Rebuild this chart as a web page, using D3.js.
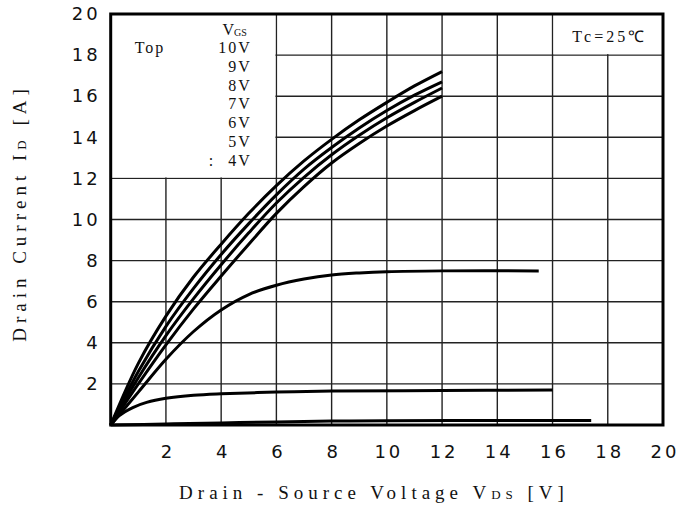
<!DOCTYPE html>
<html>
<head>
<meta charset="utf-8">
<script src="https://cdn.jsdelivr.net/npm/d3@7"></script>
<style>
  body { margin: 0; background: #fff; }
  svg { display: block; }
  .tick text { font-family: "DejaVu Sans", sans-serif; font-size: 18px; fill: #111; letter-spacing: 3px; }
  .label { font-family: "Liberation Serif", serif; font-size: 19px; fill: #111; letter-spacing: 5px; }
  .legend { font-family: "Liberation Serif", serif; font-size: 16px; fill: #111; }
</style>
</head>
<body>
<div id="chart"></div>
<script>
// tick labels
const xTicks = [2, 4, 6, 8, 10, 12, 14, 16, 18, 20];
const yTicks = [2, 4, 6, 8, 10, 12, 14, 16, 18, 20];

// legend entries (gate voltage)
const vgsLabels = ["10V", "9V", "8V", "7V", "6V", "5V", "4V"];

// output curves, [Vds, Id]
const curve10V = [[0, 0], [1, 3.0], [2, 5.3], [3, 7.2], [4, 8.8], [5, 10.3], [6, 11.65], [7, 12.85], [8, 13.9], [9, 14.85], [10, 15.7], [11, 16.5], [12, 17.2]];
const curve9V = [[0, 0], [1, 2.6], [2, 4.8], [3, 6.65], [4, 8.3], [5, 9.8], [6, 11.2], [7, 12.45], [8, 13.5], [9, 14.45], [10, 15.3], [11, 16.05], [12, 16.7]];
const curve8V = [[0, 0], [1, 2.3], [2, 4.35], [3, 6.15], [4, 7.8], [5, 9.35], [6, 10.8], [7, 12.05], [8, 13.15], [9, 14.1], [10, 14.95], [11, 15.7], [12, 16.4]];
const curve7V = [[0, 0], [1, 2.0], [2, 3.9], [3, 5.65], [4, 7.25], [5, 8.8], [6, 10.3], [7, 11.6], [8, 12.75], [9, 13.7], [10, 14.55], [11, 15.3], [12, 16.0]];
const curve6V = [[0, 0], [1, 1.6], [2, 3.2], [3, 4.55], [4, 5.6], [5, 6.35], [6, 6.8], [7, 7.1], [8, 7.3], [9, 7.4], [10, 7.46], [12, 7.5], [15.5, 7.5]];
const curve5V = [[0, 0], [0.3, 0.45], [0.8, 0.85], [1.3, 1.1], [2, 1.3], [3, 1.45], [4, 1.52], [6, 1.6], [8, 1.65], [12, 1.68], [16, 1.7]];
const curve4V = [[0, 0], [2, 0.05], [4, 0.1], [6, 0.15], [8, 0.19], [10, 0.21], [14, 0.22], [17.4, 0.22]];
const curves = [curve10V, curve9V, curve8V, curve7V, curve6V, curve5V, curve4V];

const W = 684, H = 507;
const margin = { top: 14, right: 21, bottom: 82, left: 110.7 };
const width = W - margin.left - margin.right;
const height = H - margin.top - margin.bottom;

const svg = d3.select("#chart").append("svg")
    .attr("width", W)
    .attr("height", H);

const g = svg.append("g")
    .attr("transform", `translate(${margin.left},${margin.top})`);

const x = d3.scaleLinear().domain([0, 20]).range([0, width]);
const y = d3.scaleLinear().domain([0, 20]).range([height, 0]);

// grid
g.append("g")
    .selectAll("line")
    .data(xTicks)
    .join("line")
    .attr("x1", d => x(d)).attr("x2", d => x(d))
    .attr("y1", 0).attr("y2", height)
    .attr("stroke", "#222").attr("stroke-width", 1.4);

g.append("g")
    .selectAll("line")
    .data(yTicks)
    .join("line")
    .attr("x1", 0).attr("x2", width)
    .attr("y1", d => y(d)).attr("y2", d => y(d))
    .attr("stroke", "#222").attr("stroke-width", 1.4);

// white boxes that hide the grid under the legend and the temperature note
g.append("rect")
    .attr("x", x(0)).attr("y", y(20))
    .attr("width", x(6) - x(0) - 1).attr("height", y(12) - y(20) - 1)
    .attr("fill", "#fff");
g.append("rect")
    .attr("x", x(16) + 1).attr("y", y(20))
    .attr("width", x(20) - x(16) - 1).attr("height", y(18) - y(20) - 1)
    .attr("fill", "#fff");

// tick labels (letter-spacing adds trailing space, so nudge back)
const xAxis = g.append("g")
    .attr("transform", `translate(0,${height})`)
    .call(d3.axisBottom(x).tickValues(xTicks).tickSize(0).tickPadding(20));
xAxis.select(".domain").remove();
xAxis.selectAll(".tick text").attr("dx", 1.5);

const yAxis = g.append("g")
    .call(d3.axisLeft(y).tickValues(yTicks).tickSize(0).tickPadding(10));
yAxis.select(".domain").remove();

// curves
const line = d3.line()
    .x(d => x(d[0]))
    .y(d => y(d[1]))
    .curve(d3.curveCatmullRom.alpha(0.5));

g.append("g")
    .selectAll("path")
    .data(curves)
    .join("path")
    .attr("d", line)
    .attr("fill", "none")
    .attr("stroke", "#000")
    .attr("stroke-width", 3)
    .attr("stroke-linecap", "butt");

// frame
g.append("rect")
    .attr("x", 0).attr("y", 0)
    .attr("width", width).attr("height", height)
    .attr("fill", "none")
    .attr("stroke", "#000")
    .attr("stroke-width", 3);

// legend
const leg = g.append("g").attr("class", "legend");
const vgs = leg.append("text")
    .attr("x", 124).attr("y", 21).attr("text-anchor", "middle");
vgs.append("tspan").text("V");
vgs.append("tspan").attr("font-size", 10).attr("dy", 1).text("GS");

leg.append("text").attr("x", 24).attr("y", 39).attr("letter-spacing", 2).text("Top");
leg.selectAll("text.vg")
    .data(vgsLabels)
    .join("text")
    .attr("class", "vg")
    .attr("x", 141)
    .attr("y", (d, i) => 39 + i * 18.8)
    .attr("text-anchor", "end")
    .attr("letter-spacing", 2)
    .text(d => d);
leg.append("text").attr("x", 98).attr("y", 39 + 6 * 18.8).text(":");

g.append("text")
    .attr("class", "legend")
    .attr("x", x(18) + 2).attr("y", 28)
    .attr("text-anchor", "middle")
    .attr("font-size", 18)
    .attr("letter-spacing", 3)
    .text("Tc=25℃");

// axis titles
const xt = svg.append("text")
    .attr("class", "label")
    .attr("x", 374).attr("y", 499)
    .attr("text-anchor", "middle");
xt.append("tspan").text("Drain - Source Voltage  V");
xt.append("tspan").attr("font-size", 13).text("DS");
xt.append("tspan").text(" [V]");

const yt = svg.append("text")
    .attr("class", "label")
    .attr("letter-spacing", 5)
    .attr("transform", "translate(26,213) rotate(-90)")
    .attr("text-anchor", "middle");
yt.append("tspan").text("Drain Current  I");
yt.append("tspan").attr("font-size", 13).text("D");
yt.append("tspan").text(" [A]");
</script>
</body>
</html>
